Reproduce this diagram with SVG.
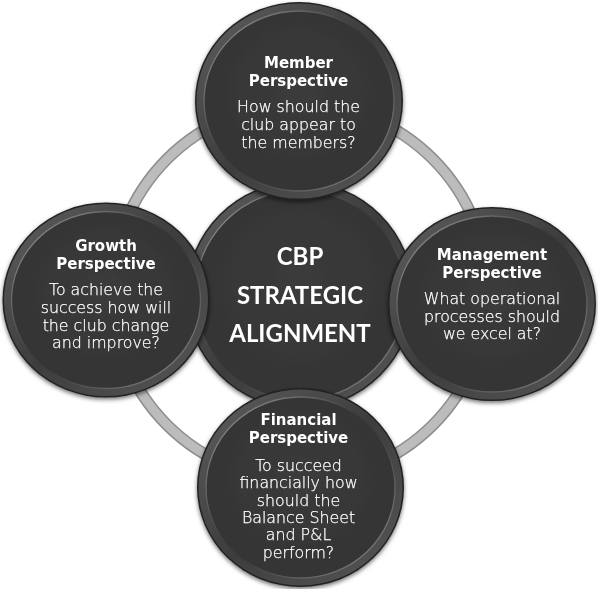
<svg xmlns="http://www.w3.org/2000/svg" width="598" height="589" viewBox="0 0 598 589">
  <defs>
    <linearGradient id="rim" x1="0" y1="0" x2="1" y2="1">
      <stop offset="0" stop-color="#5e5e5e"/>
      <stop offset="0.5" stop-color="#3d3d3d"/>
      <stop offset="1" stop-color="#585858"/>
    </linearGradient>
    <linearGradient id="hl" x1="0" y1="0" x2="1" y2="1">
      <stop offset="0" stop-color="#a0a0a0"/>
      <stop offset="0.45" stop-color="#3a3a3a"/>
      <stop offset="0.55" stop-color="#3a3a3a"/>
      <stop offset="1" stop-color="#909090"/>
    </linearGradient>
    <radialGradient id="face" cx="0.5" cy="0.45" r="0.55">
      <stop offset="0" stop-color="#3b3b3b"/>
      <stop offset="1" stop-color="#343434"/>
    </radialGradient>
    <filter id="shadow" x="-10%" y="-10%" width="120%" height="125%">
      <feDropShadow dx="0" dy="2" stdDeviation="2" flood-color="#000" flood-opacity="0.55"/>
    </filter>
    <style>
      .edge { fill: #222222; }
      .rim { fill: url(#rim); }
      .face { fill: url(#face); stroke: url(#hl); stroke-width: 1.3; }
      .title { font-family: "DejaVu Sans", "Liberation Sans", sans-serif; font-weight: bold; font-size: 15px; fill: #ffffff; text-anchor: middle; }
      .body { font-family: "DejaVu Sans", "Liberation Sans", sans-serif; font-weight: 200; font-size: 15.8px; fill: #ffffff; stroke: #ffffff; stroke-width: 0.25; text-anchor: middle; }
      .main { font-family: Lato, "Liberation Sans", sans-serif; font-weight: bold; font-size: 24px; fill: #ffffff; text-anchor: middle; }
      .ringOuter { fill: none; stroke: #8e8e8e; stroke-width: 12; }
      .ringInner { fill: none; stroke: #bcbcbc; stroke-width: 9; }
    </style>
  </defs>
  <rect width="598" height="589" fill="#ffffff"/>

  <g id="connectors">
    <circle class="ringOuter" cx="300" cy="292" r="188"/>
    <circle class="ringInner" cx="300" cy="292" r="188"/>
  </g>

  <g id="node-center" filter="url(#shadow)">
    <ellipse class="edge" cx="300" cy="295" rx="114" ry="114"/>
    <ellipse class="rim" cx="300" cy="295" rx="112.5" ry="112.5"/>
    <ellipse class="face" cx="300" cy="295" rx="105" ry="105"/>
    <text class="main" x="300" y="265">CBP</text>
    <text class="main" x="300" y="303.5">STRATEGIC</text>
    <text class="main" x="300" y="342">ALIGNMENT</text>
  </g>

  <g id="node-member" filter="url(#shadow)">
    <ellipse class="edge" cx="299" cy="101" rx="104" ry="99"/>
    <ellipse class="rim" cx="299" cy="101" rx="102.5" ry="97.5"/>
    <ellipse class="face" cx="299" cy="101" rx="95" ry="90"/>
    <text class="title" x="298.5" y="68">Member</text>
    <text class="title" x="298.5" y="86">Perspective</text>
    <text class="body" x="298.5" y="112">How should the</text>
    <text class="body" x="298.5" y="130">club appear to</text>
    <text class="body" x="298.5" y="148">the members?</text>
  </g>

  <g id="node-growth" filter="url(#shadow)">
    <ellipse class="edge" cx="106" cy="300" rx="103.5" ry="97.5"/>
    <ellipse class="rim" cx="106" cy="300" rx="102" ry="96"/>
    <ellipse class="face" cx="106" cy="300" rx="94.5" ry="88.5"/>
    <text class="title" x="106" y="251">Growth</text>
    <text class="title" x="106" y="268.5">Perspective</text>
    <text class="body" x="106" y="295">To achieve the</text>
    <text class="body" x="106" y="312.7">success how will</text>
    <text class="body" x="106" y="330.5">the club change</text>
    <text class="body" x="106" y="348">and improve?</text>
  </g>

  <g id="node-management" filter="url(#shadow)">
    <ellipse class="edge" cx="492" cy="304" rx="104" ry="97"/>
    <ellipse class="rim" cx="492" cy="304" rx="102.5" ry="95.5"/>
    <ellipse class="face" cx="492" cy="304" rx="95" ry="88"/>
    <text class="title" x="492" y="260">Management</text>
    <text class="title" x="492" y="277.5">Perspective</text>
    <text class="body" x="492" y="304">What operational</text>
    <text class="body" x="492" y="321.7">processes should</text>
    <text class="body" x="492" y="339.3">we excel at?</text>
  </g>

  <g id="node-financial" filter="url(#shadow)">
    <ellipse class="edge" cx="300.5" cy="487.5" rx="103.5" ry="99.5"/>
    <ellipse class="rim" cx="300.5" cy="487.5" rx="102" ry="98"/>
    <ellipse class="face" cx="300.5" cy="487.5" rx="94.5" ry="90.5"/>
    <text class="title" x="298.5" y="425">Financial</text>
    <text class="title" x="298.5" y="442.7">Perspective</text>
    <text class="body" x="298.5" y="470.7">To succeed</text>
    <text class="body" x="298.5" y="488.3">financially how</text>
    <text class="body" x="298.5" y="505.5">should the</text>
    <text class="body" x="298.5" y="522.7">Balance Sheet</text>
    <text class="body" x="298.5" y="540">and P&amp;L</text>
    <text class="body" x="298.5" y="557.7">perform?</text>
  </g>
</svg>
